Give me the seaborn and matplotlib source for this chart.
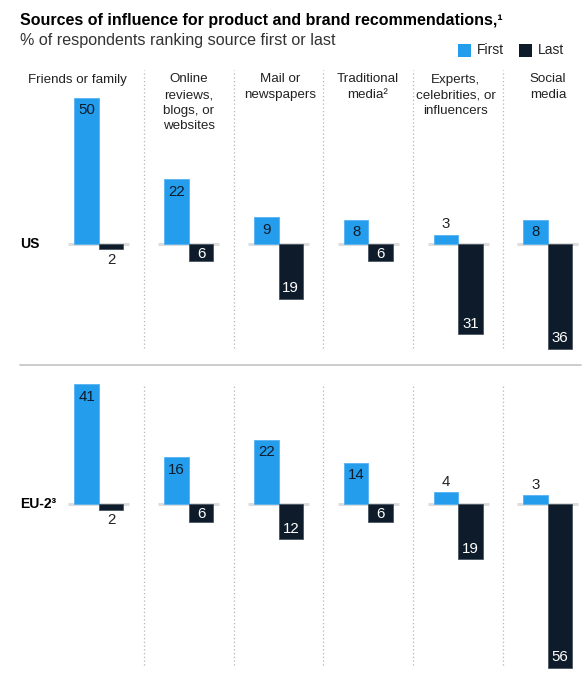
import matplotlib
matplotlib.use("Agg")
import matplotlib.pyplot as plt
from matplotlib.patches import Rectangle
from matplotlib.lines import Line2D
import seaborn as sns
import pandas as pd

# ---------------- data ----------------
sources = ["Friends or family", "Online reviews, blogs, or websites", "Mail or newspapers",
           "Traditional media", "Experts, celebrities, or influencers", "Social media"]
header_labels = ["Friends or family", "Online\nreviews,\nblogs, or\nwebsites", "Mail or\nnewspapers",
                 "Traditional\nmedia\u00b2", "Experts,\ncelebrities, or\ninfluencers", "Social\nmedia"]
regions = ["US", "EU-2\u00b3"]
us_first = [50, 22, 9, 8, 3, 8]
us_last = [2, 6, 19, 6, 31, 36]
eu_first = [41, 16, 22, 14, 4, 3]
eu_last = [2, 6, 12, 6, 19, 56]
series = ["First", "Last"]

BLUE = "#249dec"
DARK = "#0d1b2a"
TEXT = "#222222"

sns.set_theme(style="white")
plt.rcParams["font.family"] = ["Liberation Sans", "DejaVu Sans"]

W, H = 588, 681
fig = plt.figure(figsize=(W / 100, H / 100), dpi=100)
fig.patch.set_facecolor("white")

PPU = 2.92          # pixels per percentage point
COL0, STEP = 99, 89.8
AX_L, AX_R = 54, 588
HEADER_X = [77, 189, 280, 368, 456, 548]


def add_px_axes(top, bottom):
    return fig.add_axes([AX_L / W, 1 - bottom / H, (AX_R - AX_L) / W, (bottom - top) / H])


def fx(px):
    return px / W


def fy(py):
    return 1 - py / H


panels = [
    # (label, first, last, axes top, axes bottom, baseline px, sep top px, sep bottom px)
    (regions[0], us_first, us_last, 60, 360, 243.5, 70, 348),
    (regions[1], eu_first, eu_last, 375, 681, 504, 385, 665),
]

VAL_FS = 10.8

for name, first, last, top, bottom, base, s_top, s_bot in panels:
    ax = add_px_axes(top, bottom)
    df = pd.DataFrame({
        "source": sources * 2,
        "series": ["First"] * 6 + ["Last"] * 6,
        "value": list(first) + [-v for v in last],
    })
    sns.barplot(data=df, x="source", y="value", hue="series", order=sources,
                hue_order=series, palette=[BLUE, DARK], width=0.546, dodge=True,
                saturation=1, legend=False, errorbar=None, ax=ax, zorder=3)
    for p in ax.patches:
        fc = matplotlib.colors.to_hex(p.get_facecolor())
        p.set_edgecolor("#55b3f2" if fc == BLUE else "#4a5561")
        p.set_linewidth(0.6)
    ax.set_xlim(-0.5, -0.5 + (AX_R - AX_L) / STEP)
    ax.set_ylim((base - bottom) / PPU, (base - top) / PPU)
    ax.axis("off")

    bw = 0.273
    for i in range(6):
        ax.hlines(0, i - 0.34, i + 0.34, color="#dddddd", lw=2.2, zorder=1)
    for i in range(5):
        ax.vlines(i + 0.5, (base - s_bot) / PPU, (base - s_top) / PPU, color="#b5b5b5",
                  lw=0.9, linestyles=(0, (1, 2)), zorder=0)

    for i, (f, l) in enumerate(zip(first, last)):
        xb = i - bw / 2
        xd = i + bw / 2
        if f >= 5:
            off = min(12.3, f * PPU * 0.5) / PPU
            ax.text(xb, f - off, str(f), ha="center", va="center", fontsize=VAL_FS,
                    color=DARK, zorder=5)
        else:
            ax.text(xb, f + 10.5 / PPU, str(f), ha="center", va="center", fontsize=VAL_FS,
                    color=TEXT, zorder=5)
        if l >= 5:
            off = min(10.5, l * PPU * 0.42) / PPU
            ax.text(xd, -l + off, str(l), ha="center", va="center", fontsize=VAL_FS,
                    color="white", zorder=5)
        else:
            ax.text(xd, -l - 10.5 / PPU, str(l), ha="center", va="center", fontsize=VAL_FS,
                    color=TEXT, zorder=5)

    fig.text(fx(20), fy(base), name, ha="left", va="center", fontsize=10,
             fontweight="bold", color="black")

# column headers
for xh, lab in zip(HEADER_X, header_labels):
    fig.text(fx(xh), fy(73.5), lab, ha="center", va="top", fontsize=9.6,
             color=TEXT, linespacing=1.4)

# separator line between panels
fig.add_artist(Line2D([fx(20), fx(581)], [fy(365), fy(365)], color="#c8c8c8", lw=1.3))

# title and subtitle
fig.text(fx(20), fy(21), "Sources of influence for product and brand recommendations,\u00b9",
         ha="left", va="center", fontsize=11.5, fontweight="bold", color="black")
fig.text(fx(20), fy(41), "% of respondents ranking source first or last",
         ha="left", va="center", fontsize=11.6, color="#333333")

# legend
for x0, col, lab in [(458, BLUE, "First"), (519, DARK, "Last")]:
    fig.add_artist(Rectangle((fx(x0), fy(57)), 13 / W, 13 / H, transform=fig.transFigure,
                             facecolor=col, edgecolor="none"))
    fig.text(fx(x0 + 19), fy(50.5), lab, ha="left", va="center", fontsize=10, color=TEXT)

fig.savefig("out.png", dpi=100, facecolor="white")
